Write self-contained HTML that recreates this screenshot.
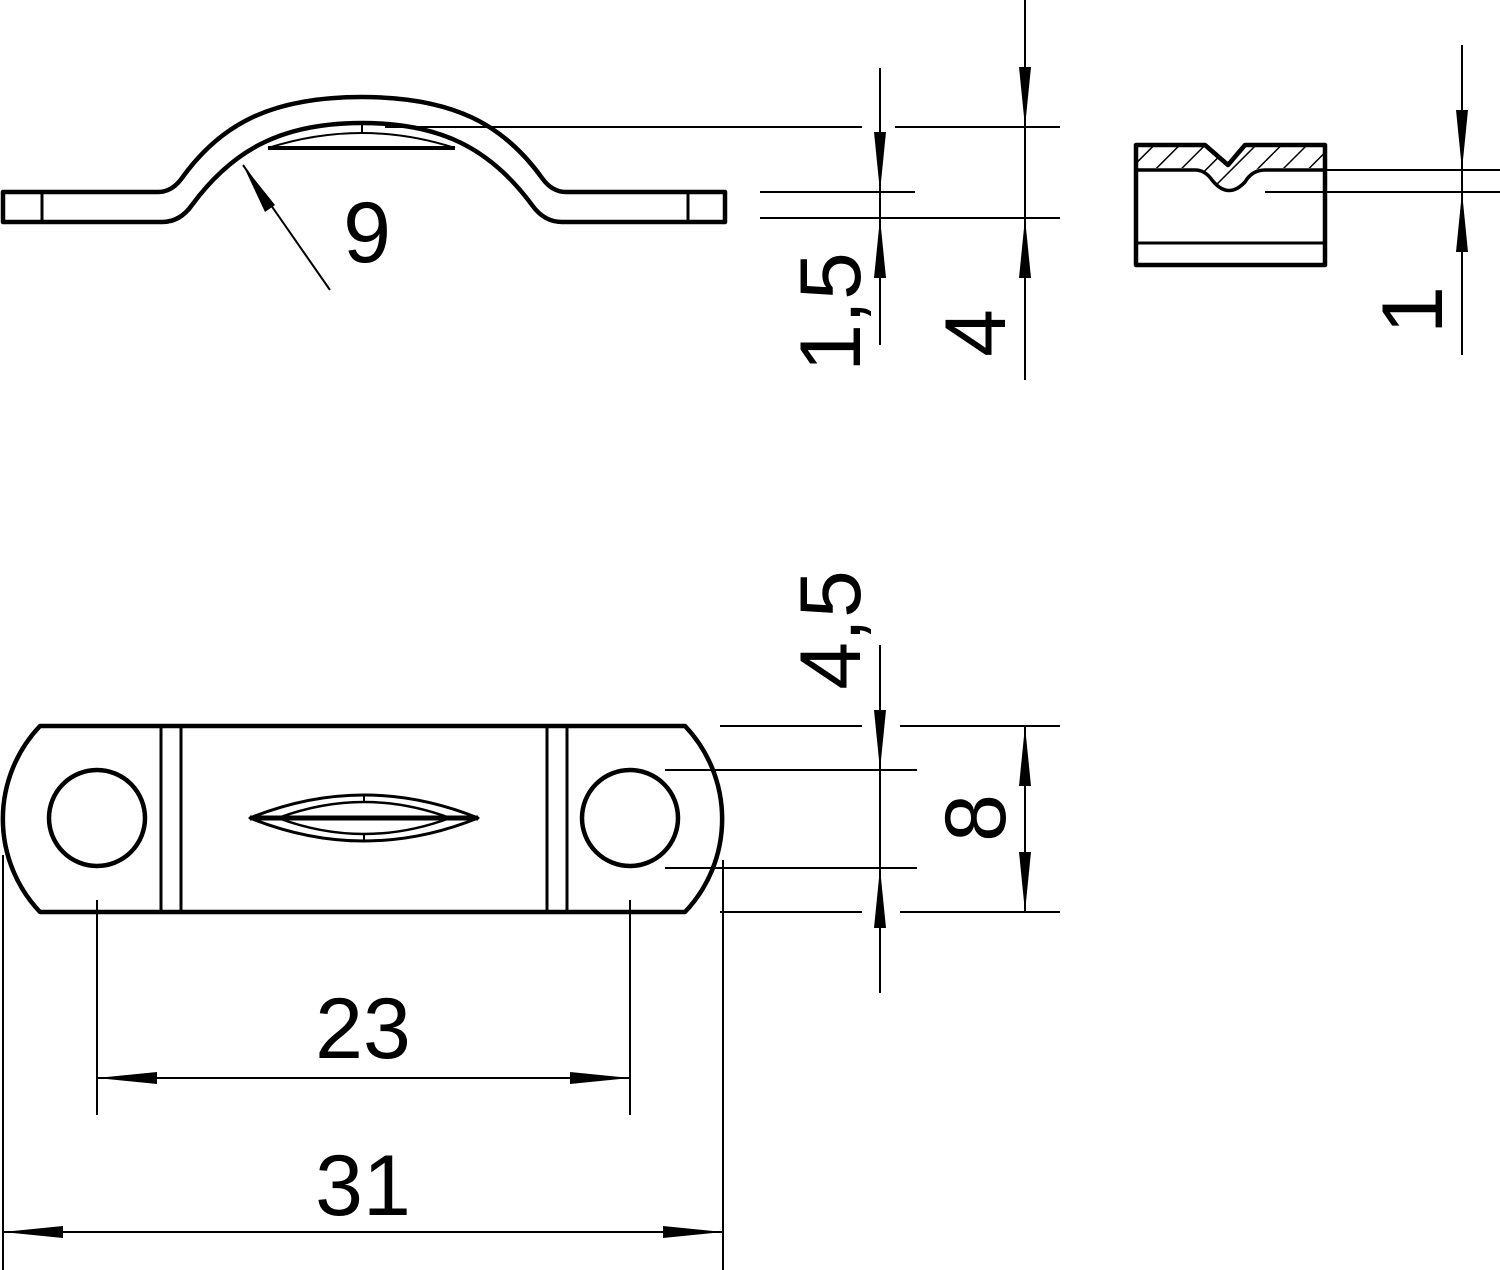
<!DOCTYPE html>
<html><head><meta charset="utf-8"><style>html,body{margin:0;padding:0;background:#fff}svg{display:block}</style></head>
<body>
<svg width="1500" height="1270" viewBox="0 0 1500 1270" xmlns="http://www.w3.org/2000/svg" font-family="Liberation Sans, sans-serif">
<defs>
<pattern id="h" width="18" height="18" patternUnits="userSpaceOnUse" patternTransform="rotate(45)">
<line x1="0" y1="0" x2="0" y2="18" stroke="#000" stroke-width="3"/>
</pattern>
</defs>
<g fill="none" stroke="#000" stroke-linejoin="round">
<!-- top profile -->
<path stroke-width="4.5" d="M3,192 H158 Q172,192 182,178 C220,125 270,97 362,97 C454,97 504,125 542,178 Q552,192 566,192 H725 V222 H562 Q544,222 532,205 C490,148 440,123 362,123 C284,123 234,148 192,205 Q180,222 162,222 H3 Z"/>
<line stroke-width="3" x1="42" y1="192" x2="42" y2="222"/>
<line stroke-width="3" x1="688" y1="192" x2="688" y2="222"/>
<line stroke-width="4" x1="268" y1="148" x2="455" y2="148"/>
<path stroke-width="2" d="M268,148 Q362,118 455,148"/>
<line stroke-width="2" x1="362" y1="123" x2="362" y2="132"/>
<line stroke-width="2" x1="330" y1="290" x2="243" y2="165"/>

<!-- top dims -->
<g stroke-width="2">
<line x1="385" y1="127" x2="862" y2="127"/>
<line x1="895" y1="127" x2="1060" y2="127"/>
<line x1="760" y1="192" x2="915" y2="192"/>
<line x1="760" y1="218" x2="915" y2="218"/>
<line x1="895" y1="218" x2="1060" y2="218"/>
<line x1="880" y1="68" x2="880" y2="345"/>
<line x1="1025" y1="0" x2="1025" y2="380"/>
</g>

<!-- right section -->
<path stroke-width="4.5" d="M1136,145 H1205 L1228,165 L1245,145 H1325 V265 H1136 Z"/>
<path d="M1138,147 H1205 L1228,167 L1245,147 H1323 V168 H1265 Q1250,168 1243,180 Q1230,195 1215,182 Q1205,168 1195,168 H1138 Z" fill="url(#h)" stroke="none"/>
<path stroke-width="3.5" d="M1136,170 H1195 Q1205,170 1212,180 Q1228,200 1245,182 Q1252,170 1265,170 H1325"/>
<line stroke-width="3" x1="1136" y1="243" x2="1325" y2="243"/>
<g stroke-width="2">
<line x1="1325" y1="170" x2="1500" y2="170"/>
<line x1="1265" y1="192" x2="1500" y2="192"/>
<line x1="1462" y1="45" x2="1462" y2="355"/>
</g>

<!-- plan view -->
<path stroke-width="4.5" d="M40,726 H685 A135,135 0 0 1 685,912 H40 A135,135 0 0 1 40,726 Z"/>
<circle stroke-width="4.5" cx="97" cy="818" r="48"/>
<circle stroke-width="4.5" cx="630" cy="818" r="48"/>
<g stroke-width="3">
<line x1="161" y1="726" x2="161" y2="912"/>
<line x1="181" y1="726" x2="181" y2="912"/>
<line x1="547" y1="726" x2="547" y2="912"/>
<line x1="567" y1="726" x2="567" y2="912"/>
</g>
<line stroke-width="5" x1="250" y1="818" x2="478" y2="818"/>
<path stroke-width="3" d="M250,818 Q364,772 478,818 Q364,864 250,818 Z"/>
<path stroke-width="2.5" d="M278,818 Q364,786 450,818 Q364,850 278,818 Z"/>
<line stroke-width="2" x1="364" y1="794" x2="364" y2="802"/>
<line stroke-width="2" x1="364" y1="834" x2="364" y2="842"/>

<!-- plan dims -->
<g stroke-width="2">
<line x1="720" y1="726" x2="862" y2="726"/>
<line x1="900" y1="726" x2="1060" y2="726"/>
<line x1="665" y1="770" x2="917" y2="770"/>
<line x1="665" y1="868" x2="917" y2="868"/>
<line x1="720" y1="912" x2="862" y2="912"/>
<line x1="900" y1="912" x2="1060" y2="912"/>
<line x1="880" y1="645" x2="880" y2="993"/>
<line x1="1025" y1="726" x2="1025" y2="912"/>
<line x1="97" y1="900" x2="97" y2="1115"/>
<line x1="630" y1="900" x2="630" y2="1115"/>
<line x1="97" y1="1078" x2="630" y2="1078"/>
<line x1="3" y1="855" x2="3" y2="1270"/>
<line x1="723" y1="860" x2="723" y2="1270"/>
<line x1="3" y1="1232" x2="723" y2="1232"/>
</g>
</g>

<!-- arrowheads -->
<g fill="#000">
<polygon points="243,165 265,212 275,205"/>
<polygon points="880,192 874,132 886,132"/>
<polygon points="880,218 874,278 886,278"/>
<polygon points="1025,127 1019,67 1031,67"/>
<polygon points="1025,218 1019,278 1031,278"/>
<polygon points="1462,170 1456,110 1468,110"/>
<polygon points="1462,192 1456,252 1468,252"/>
<polygon points="880,770 874,710 886,710"/>
<polygon points="880,868 874,928 886,928"/>
<polygon points="1025,726 1019,786 1031,786"/>
<polygon points="1025,912 1019,852 1031,852"/>
<polygon points="97,1078 157,1072 157,1084"/>
<polygon points="630,1078 570,1072 570,1084"/>
<polygon points="3,1232 63,1226 63,1238"/>
<polygon points="723,1232 663,1226 663,1238"/>
</g>

<!-- text -->
<g font-size="86" fill="#000">
<text x="367" y="262" text-anchor="middle">9</text>
<text transform="translate(860,312) rotate(-90)" text-anchor="middle">1,5</text>
<text transform="translate(1005,333) rotate(-90)" text-anchor="middle">4</text>
<text transform="translate(1442,310) rotate(-90)" text-anchor="middle">1</text>
<text transform="translate(860,630) rotate(-90)" text-anchor="middle">4,5</text>
<text transform="translate(1005,818) rotate(-90)" text-anchor="middle">8</text>
<text x="363" y="1058" text-anchor="middle">23</text>
<text x="363" y="1215" text-anchor="middle">31</text>
</g>
</svg>
</body></html>
